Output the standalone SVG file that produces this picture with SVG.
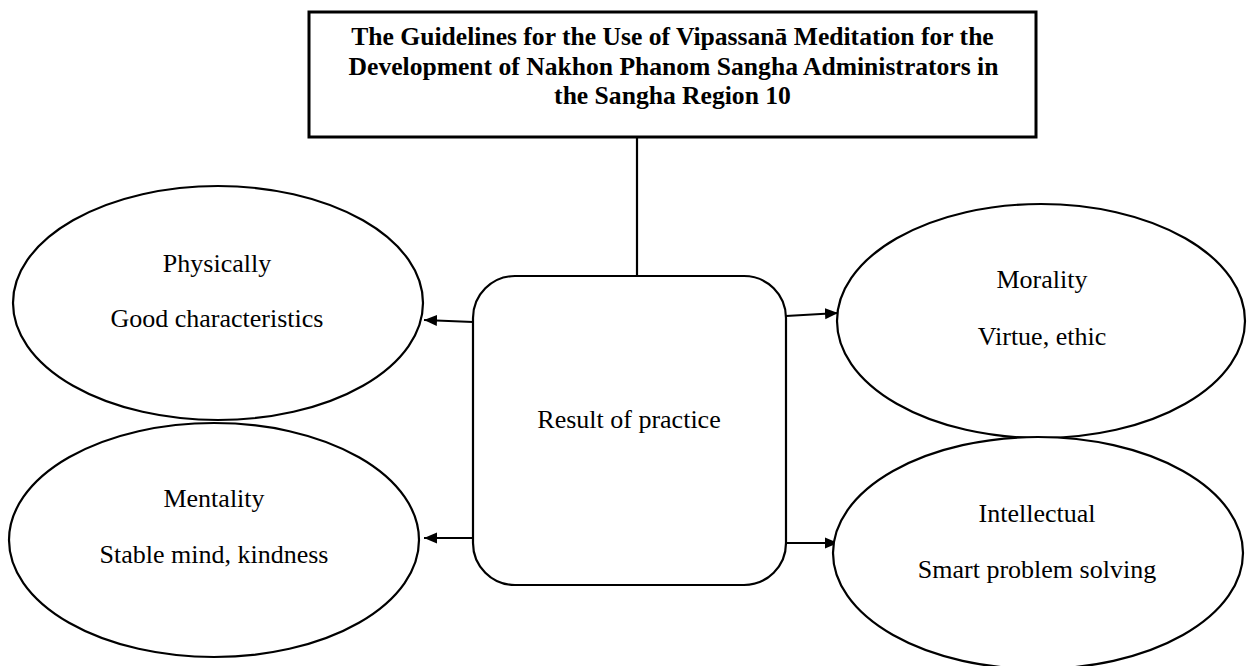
<svg xmlns="http://www.w3.org/2000/svg" width="1249" height="666" viewBox="0 0 1249 666">
<style>
.shape{fill:#fff;stroke:#000;stroke-width:2.2}
.title{font-family:"Liberation Serif","Times New Roman",serif;font-weight:bold;font-size:25.6px;fill:#000;text-anchor:middle}
.lbl{font-family:"Liberation Serif","Times New Roman",serif;font-size:26px;fill:#000;text-anchor:middle}
.conn{stroke:#000;stroke-width:2.2;fill:none}
</style>
<defs>
<marker id="arr" markerUnits="userSpaceOnUse" markerWidth="14" markerHeight="12" refX="13" refY="6" orient="auto">
<path d="M0,0.5 L13,6 L0,11.5 z" fill="#000"/>
</marker>
</defs>
<rect width="1249" height="666" fill="#fff"/>
<g id="connectors">
<line class="conn" x1="637" y1="137" x2="637" y2="276"/>
<line class="conn" x1="473" y1="322" x2="424" y2="320" marker-end="url(#arr)"/>
<line class="conn" x1="473" y1="538" x2="424" y2="538" marker-end="url(#arr)"/>
<line class="conn" x1="786" y1="316" x2="838" y2="313" marker-end="url(#arr)"/>
<line class="conn" x1="786" y1="543" x2="838" y2="543" marker-end="url(#arr)"/>
</g>
<g id="title">
<rect x="309" y="12" width="727" height="125" fill="#fff" stroke="#000" stroke-width="3"/>
<text class="title" x="672.5" y="45">The Guidelines for the Use of Vipassanā Meditation for the</text>
<text class="title" x="673.5" y="74.5">Development of Nakhon Phanom Sangha Administrators in</text>
<text class="title" x="672.5" y="104">the Sangha Region 10</text>
</g>
<g id="result">
<rect class="shape" x="473" y="276" width="313" height="309" rx="42" ry="42"/>
<text class="lbl" x="629" y="428">Result of practice</text>
</g>
<g id="physically">
<ellipse class="shape" cx="218" cy="303" rx="205" ry="117"/>
<text class="lbl" x="217" y="272">Physically</text>
<text class="lbl" x="217" y="327">Good characteristics</text>
</g>
<g id="mentality">
<ellipse class="shape" cx="214" cy="540" rx="205" ry="117"/>
<text class="lbl" x="214" y="507">Mentality</text>
<text class="lbl" x="214" y="563">Stable mind, kindness</text>
</g>
<g id="morality">
<ellipse class="shape" cx="1041" cy="321" rx="204" ry="117"/>
<text class="lbl" x="1042" y="288">Morality</text>
<text class="lbl" x="1042" y="345">Virtue, ethic</text>
</g>
<g id="intellectual">
<ellipse class="shape" cx="1038" cy="553" rx="205" ry="116"/>
<text class="lbl" x="1037" y="522">Intellectual</text>
<text class="lbl" x="1037" y="578">Smart problem solving</text>
</g>
</svg>
